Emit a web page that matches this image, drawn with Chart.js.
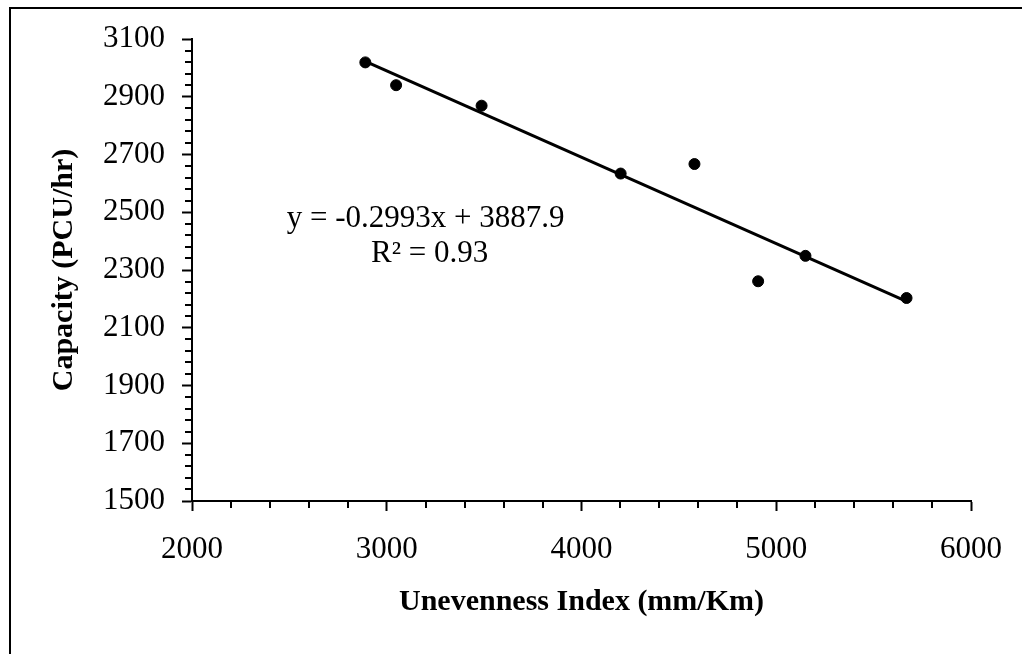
<!DOCTYPE html>
<html>
<head>
<meta charset="utf-8">
<title>Capacity vs Unevenness Index</title>
<script src="https://cdn.jsdelivr.net/npm/chart.js@4.4.1/dist/chart.umd.min.js"></script>
<style>
  html, body { margin: 0; padding: 0; background: #fff; }
  canvas { display: block; }
</style>
</head>
<body>
<canvas id="capacityChart" width="1022" height="654"></canvas>
<script>
// Observed values
const unevenness = [2890, 3048, 3487, 4201, 4580, 4907, 5150, 5669];
const capacity = [3019, 2940, 2869, 2634, 2667, 2261, 2349, 2203];

// Linear trendline (as labelled)
const slope = -0.2993;
const intercept = 3887.9;
const rSquared = 0.93;

// Axis ranges
const xTicks = [2000, 3000, 4000, 5000, 6000];
const yTicks = [1500, 1700, 1900, 2100, 2300, 2500, 2700, 2900, 3100];

const points = unevenness.map((x, i) => ({ x: x, y: capacity[i] }));
const xMin = Math.min(...unevenness);
const xMax = Math.max(...unevenness);
const trend = [
    { x: xMin, y: slope * xMin + intercept },
    { x: xMax, y: slope * xMax + intercept }
];

const serif = "'Liberation Serif', 'Times New Roman', serif";

// outer frame + minor ticks + equation text
const extras = {
    id: 'extras',
    beforeDraw(chart) {
        const ctx = chart.ctx;
        ctx.save();
        ctx.fillStyle = '#fff';
        ctx.fillRect(0, 0, chart.width, chart.height);
        ctx.strokeStyle = '#000';
        ctx.lineWidth = 2;
        ctx.beginPath();
        ctx.moveTo(10, chart.height);
        ctx.lineTo(10, 8);
        ctx.lineTo(chart.width, 8);
        ctx.stroke();
        ctx.restore();
    },
    afterDraw(chart) {
        const ctx = chart.ctx;
        const xs = chart.scales.x;
        const ys = chart.scales.y;
        ctx.save();
        ctx.strokeStyle = '#000';
        ctx.lineWidth = 2;
        ctx.beginPath();
        for (let v = xs.min; v <= xs.max; v += 200) {
            if (v % 1000 === 0) continue;
            const px = Math.round(xs.getPixelForValue(v));
            ctx.moveTo(px, ys.bottom);
            ctx.lineTo(px, ys.bottom + 7);
        }
        for (let v = ys.min; v <= ys.max; v += 40) {
            if ((v - ys.min) % 200 === 0) continue;
            const py = Math.round(ys.getPixelForValue(v));
            ctx.moveTo(xs.left, py);
            ctx.lineTo(xs.left - 7, py);
        }
        ctx.stroke();

        // equation label
        ctx.fillStyle = '#000';
        ctx.font = '31px ' + serif;
        ctx.textAlign = 'center';
        ctx.textBaseline = 'alphabetic';
        const cx = xs.getPixelForValue(3200);
        const by = ys.getPixelForValue(2448);
        ctx.fillText('y = ' + slope.toFixed(4) + 'x + ' + intercept.toFixed(1), cx, by);
        ctx.fillText('R² = ' + rSquared.toFixed(2), cx + 4, by + 35);
        ctx.restore();
    }
};

const plain = (v) => String(v);

const config = {
    data: {
        datasets: [{
            type: 'scatter',
            label: 'Capacity',
            data: points,
            backgroundColor: '#000',
            borderColor: '#000',
            pointRadius: 5.5,
            pointHoverRadius: 5.5,
            order: 0
        }, {
            type: 'line',
            label: 'Linear trend',
            data: trend,
            borderColor: '#000',
            borderWidth: 3,
            pointRadius: 0,
            fill: false,
            order: 1
        }]
    },
    options: {
        responsive: false,
        animation: false,
        devicePixelRatio: 1,
        layout: { padding: { top: 39, right: 49, left: 0, bottom: 0 } },
        plugins: {
            legend: { display: false },
            tooltip: { enabled: false }
        },
        scales: {
            x: {
                type: 'linear',
                min: xTicks[0],
                max: xTicks[xTicks.length - 1],
                afterFit(scale) { scale.height = 153; },
                ticks: {
                    stepSize: 1000,
                    color: '#000',
                    padding: 20,
                    maxRotation: 0,
                    callback: plain,
                    font: { family: serif, size: 31 }
                },
                grid: {
                    drawOnChartArea: false,
                    drawTicks: true,
                    tickLength: 10,
                    tickColor: '#000',
                    tickWidth: 2
                },
                border: { display: true, color: '#000', width: 2 },
                title: {
                    display: true,
                    text: 'Unevenness Index (mm/Km)',
                    color: '#000',
                    padding: { top: 34, bottom: 34 },
                    font: { family: serif, size: 30, weight: 'bold' }
                }
            },
            y: {
                type: 'linear',
                min: yTicks[0],
                max: yTicks[yTicks.length - 1],
                afterFit(scale) { scale.width = 192; },
                ticks: {
                    stepSize: 200,
                    color: '#000',
                    padding: 17,
                    callback: plain,
                    font: { family: serif, size: 31 }
                },
                grid: {
                    drawOnChartArea: false,
                    drawTicks: true,
                    tickLength: 10,
                    tickColor: '#000',
                    tickWidth: 2
                },
                border: { display: true, color: '#000', width: 2 },
                title: {
                    display: true,
                    text: 'Capacity (PCU/hr)',
                    color: '#000',
                    padding: { top: 46, bottom: 0 },
                    font: { family: serif, size: 30, weight: 'bold' }
                }
            }
        }
    },
    plugins: [extras]
};

const capacityChart = new Chart(document.getElementById('capacityChart'), config);
</script>
</body>
</html>
